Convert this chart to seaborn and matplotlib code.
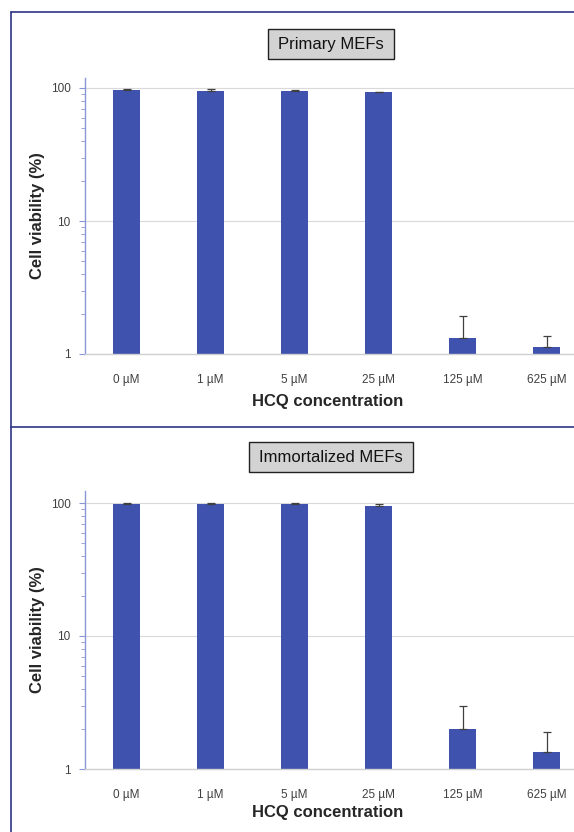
import numpy as np
import seaborn as sns
import matplotlib.pyplot as plt
from matplotlib.lines import Line2D
from matplotlib.patches import Rectangle
from matplotlib.ticker import FixedLocator, NullFormatter

# data
concs = ['0 µM', '1 µM', '5 µM', '25 µM', '125 µM', '625 µM']
primary_vals = [97.0, 95.5, 95.5, 93.0, 1.33, 1.13]
primary_err = [1.5, 3.0, 1.0, 1.0, 0.60, 0.23]
immort_vals = [99.0, 99.0, 97.5, 95.5, 2.0, 1.34]
immort_err = [1.0, 1.0, 2.0, 2.5, 0.97, 0.56]
panel_titles = ['Primary MEFs', 'Immortalized MEFs']

sns.set_style('white')
plt.rcParams['font.family'] = ['Liberation Sans', 'DejaVu Sans']

W, H = 574, 832
fig = plt.figure(figsize=(W / 100, H / 100), dpi=100)

bar_color = '#3E52AE'
frame_color = '#2E3585'
axis_blue = '#8A97D6'

# (axis top px, axis bottom px, title box (x0, y0, x1, y1), xlabel offset px)
layout = [
    (78, 354, (268, 29, 394, 59), 48),
    (491, 769, (249, 442, 413, 472), 43),
]
data = [(primary_vals, primary_err), (immort_vals, immort_err)]

for (top, bot, box, xl_off), (vals, errs), title in zip(layout, data, panel_titles):
    h = bot - top
    ax = fig.add_axes([84.5 / W, 1 - bot / H, 504 / W, h / H])
    sns.barplot(x=concs, y=vals, color=bar_color, width=0.31, ax=ax,
                saturation=1, edgecolor='none')
    ax.errorbar(np.arange(len(vals)), vals, yerr=[np.zeros(len(errs)), errs],
                fmt='none', ecolor='#404040', elinewidth=0.9, capsize=3, capthick=0.9)
    ax.set_yscale('log')
    ax.set_ylim(1, 10 ** (h / 133))
    ax.set_xlim(-0.5, 5.5)
    ax.yaxis.set_major_locator(FixedLocator([1, 10, 100]))
    ax.set_yticklabels(['1', '10', '100'])
    minors = [m * d for d in (1, 10) for m in range(2, 10)]
    ax.yaxis.set_minor_locator(FixedLocator(minors))
    ax.yaxis.set_minor_formatter(NullFormatter())
    ax.grid(axis='y', which='major', color='#D9D9D9', lw=0.8)
    ax.set_axisbelow(True)
    for s in ['top', 'right']:
        ax.spines[s].set_visible(False)
    ax.spines['left'].set_color(axis_blue)
    ax.spines['left'].set_linewidth(1.0)
    ax.spines['bottom'].set_color('#D0D0D0')
    ax.spines['bottom'].set_linewidth(1.0)
    ax.tick_params(axis='y', which='major', left=True, length=4, color=axis_blue,
                   labelsize=8.5, labelcolor='#404040', pad=6)
    ax.tick_params(axis='y', which='minor', left=True, length=3, color=axis_blue)
    ax.tick_params(axis='x', bottom=False, labelsize=8.5, labelcolor='#404040', pad=11)
    ax.set_xlabel('HCQ concentration', fontsize=12, fontweight='bold', va='center')
    ax.set_ylabel('Cell viability (%)', fontsize=12, fontweight='bold', va='center')
    ax.xaxis.set_label_coords((327.5 - 84.5) / 504, -xl_off / h)
    ax.yaxis.set_label_coords((37.5 - 84.5) / 504, 0.5)

    x0, y0, x1, y1 = box
    fig.add_artist(Rectangle((x0 / W, 1 - y1 / H), (x1 - x0) / W, (y1 - y0) / H,
                             transform=fig.transFigure, fc='#D3D3D3', ec='#222222', lw=1.0))
    fig.text((x0 + x1) / 2 / W, 1 - (y0 + y1) / 2 / H, title, ha='center', va='center',
             fontsize=12, color='#111111')

# outer frame lines
fig.add_artist(Line2D([11 / W, 11 / W], [0, 1 - 12 / H], transform=fig.transFigure,
                      color=frame_color, lw=1.2))
fig.add_artist(Line2D([11 / W, 1], [1 - 12 / H, 1 - 12 / H], transform=fig.transFigure,
                      color=frame_color, lw=1.2))
fig.add_artist(Line2D([11 / W, 1], [1 - 427 / H, 1 - 427 / H], transform=fig.transFigure,
                      color=frame_color, lw=1.2))

fig.savefig('out.png', dpi=100)
